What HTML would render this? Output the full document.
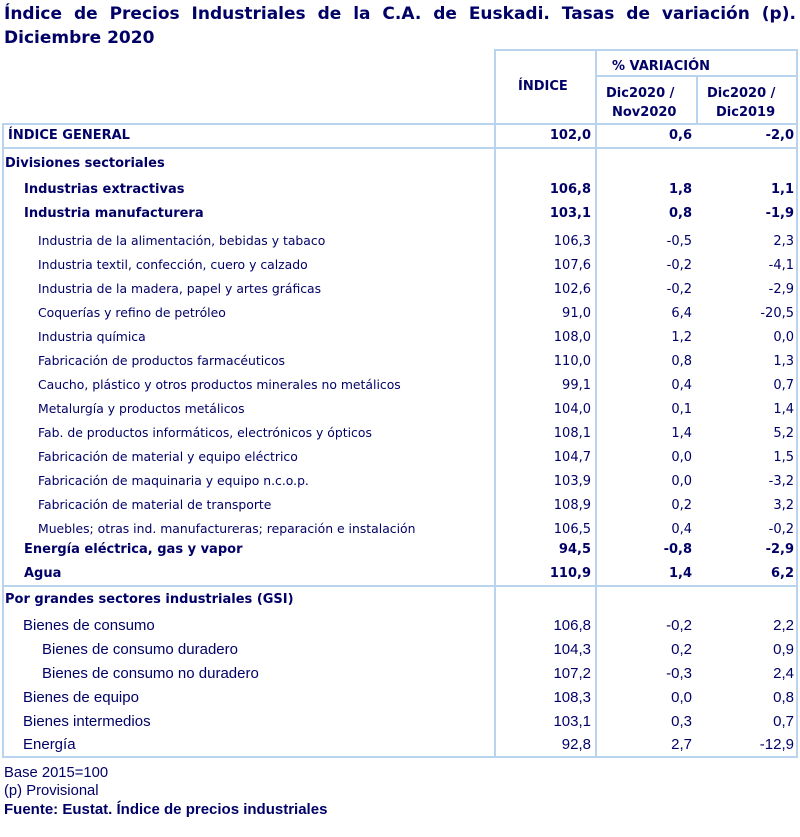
<!DOCTYPE html>
<html><head><meta charset="utf-8"><style>
body{margin:0;width:800px;height:837px;background:#fff;position:relative;overflow:hidden;color:#000066;font-family:"DejaVu Sans",Verdana,sans-serif}
.t{position:absolute;white-space:nowrap;line-height:1}
.b{font-weight:bold}
.r{text-align:right}
.h{position:absolute;height:2px;background:#b8d4ee}
.v{position:absolute;width:2px;background:#b8d4ee}
.s{font-family:"Liberation Sans",sans-serif;font-size:15px}
</style></head><body>
<div class="t b" style="left:4px;top:6px;font-size:17px;word-spacing:6px">Índice de Precios Industriales de la C.A. de Euskadi. Tasas de variación (p).</div>
<div class="t b" style="left:4px;top:30px;font-size:17px">Diciembre 2020</div>

<div class="h" style="left:494px;width:304px;top:49px"></div>
<div class="h" style="left:595px;width:203px;top:75px"></div>
<div class="h" style="left:2px;width:796px;top:123px"></div>
<div class="h" style="left:2px;width:796px;top:147px"></div>
<div class="h" style="left:2px;width:796px;top:585px"></div>
<div class="h" style="left:2px;width:796px;top:756px"></div>
<div class="v" style="left:2px;top:123px;height:635px"></div>
<div class="v" style="left:494px;top:49px;height:709px"></div>
<div class="v" style="left:595px;top:49px;height:709px"></div>
<div class="v" style="left:696px;top:75px;height:50px"></div>
<div class="v" style="left:796px;top:49px;height:709px"></div>

<div class="t b" style="left:518px;top:80px;font-size:13px">ÍNDICE</div>
<div class="t b" style="left:612px;top:60px;font-size:13px">% VARIACIÓN</div>
<div class="t b" style="left:606px;top:87px;font-size:13px">Dic2020 /</div>
<div class="t b" style="left:612px;top:106px;font-size:13px">Nov2020</div>
<div class="t b" style="left:707px;top:87px;font-size:13px">Dic2020 /</div>
<div class="t b" style="left:716px;top:106px;font-size:13px">Dic2019</div>

<div id="rows"></div>
<script>
var rows=[
[129,8,"ÍNDICE GENERAL","102,0","0,6","-2,0","b",13],
[157,5,"Divisiones sectoriales","","","","b",13],
[183,24,"Industrias extractivas","106,8","1,8","1,1","b",13],
[207,24,"Industria manufacturera","103,1","0,8","-1,9","b",13],
[235,38,"Industria de la alimentación, bebidas y tabaco","106,3","-0,5","2,3","",12.4],
[259,38,"Industria textil, confección, cuero y calzado","107,6","-0,2","-4,1","",12.4],
[283,38,"Industria de la madera, papel y artes gráficas","102,6","-0,2","-2,9","",12.4],
[307,38,"Coquerías y refino de petróleo","91,0","6,4","-20,5","",12.4],
[331,38,"Industria química","108,0","1,2","0,0","",12.4],
[355,38,"Fabricación de productos farmacéuticos","110,0","0,8","1,3","",12.4],
[379,38,"Caucho, plástico y otros productos minerales no metálicos","99,1","0,4","0,7","",12.4],
[403,38,"Metalurgía y productos metálicos","104,0","0,1","1,4","",12.4],
[427,38,"Fab. de productos informáticos, electrónicos y ópticos","108,1","1,4","5,2","",12.4],
[451,38,"Fabricación de material y equipo eléctrico","104,7","0,0","1,5","",12.4],
[475,38,"Fabricación de maquinaria y equipo n.c.o.p.","103,9","0,0","-3,2","",12.4],
[499,38,"Fabricación de material de transporte","108,9","0,2","3,2","",12.4],
[523,38,"Muebles; otras ind. manufactureras; reparación e instalación","106,5","0,4","-0,2","",12.4],
[543,24,"Energía eléctrica, gas y vapor","94,5","-0,8","-2,9","b",13],
[567,24,"Agua","110,9","1,4","6,2","b",13],
[593,5,"Por grandes sectores industriales (GSI)","","","","b",13],
[618,23,"Bienes de consumo","106,8","-0,2","2,2","s",0],
[642,42,"Bienes de consumo duradero","104,3","0,2","0,9","s",0],
[666,42,"Bienes de consumo no duradero","107,2","-0,3","2,4","s",0],
[690,23,"Bienes de equipo","108,3","0,0","0,8","s",0],
[714,23,"Bienes intermedios","103,1","0,3","0,7","s",0],
[737,23,"Energía","92,8","2,7","-12,9","s",0]];
var h="";
rows.forEach(function(r){
 var cls="t "+r[6], st=r[7]?"font-size:"+r[7]+"px;":"";
 h+='<div class="'+cls+'" style="left:'+r[1]+'px;top:'+r[0]+'px;'+st+'">'+r[2]+'</div>';
 [[r[3],591],[r[4],692],[r[5],794]].forEach(function(c){
  if(c[0])h+='<div class="'+cls+' r" style="left:'+(c[1]-100)+'px;width:100px;top:'+r[0]+'px;'+(r[7]?"font-size:13px;":"")+'">'+c[0]+'</div>';
 });
});
document.getElementById("rows").innerHTML=h;
</script>
<div class="t s" style="left:4px;top:766px;font-size:14.8px">Base 2015=100</div>
<div class="t s" style="left:4px;top:784px;font-size:14.8px">(p) Provisional</div>
<div class="t s b" style="left:4px;top:802px;font-size:15px">Fuente: Eustat. Índice de precios industriales</div>
</body></html>
